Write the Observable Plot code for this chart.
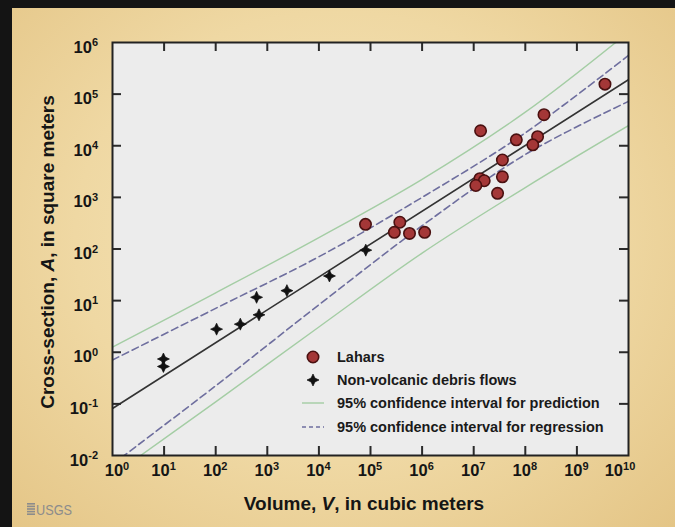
<!DOCTYPE html>
<html><head><meta charset="utf-8">
<script src="https://cdn.jsdelivr.net/npm/d3@7"></script>
<script src="https://cdn.jsdelivr.net/npm/@observablehq/plot@0.6"></script>
<style>
html,body{margin:0;padding:0;background:#e6c98c;}
#wrap{position:relative;width:675px;height:527px;overflow:hidden;
  background:radial-gradient(ellipse at 50% 45%, #f6e7bd 0%, #efd8a3 55%, #e4c586 100%);
  font-family:"Liberation Sans",Arial,Helvetica,sans-serif;}
#wrap svg{position:absolute;left:0;top:0;}
</style></head>
<body><div id="wrap"></div>
<script>
// ---- data ----
const laharV = [3.5e9, 2.3e8, 1.36e7, 6.7e7, 1.73e8, 1.4e8, 3.6e7, 3.6e7, 1.32e7, 1.6e7, 1.1e7, 2.9e7, 8.0e4, 3.7e5, 2.9e5, 5.7e5, 1.12e6];
const laharA = [1.56e5, 4.0e4, 1.95e4, 1.3e4, 1.5e4, 1.04e4, 5.3e3, 2.5e3, 2.3e3, 2.1e3, 1.7e3, 1.2e3, 300, 330, 210, 200, 210];
const debrisV = [9.7, 9.7, 104, 300, 620, 690, 2400, 1.6e4, 8.1e4];
const debrisA = [0.74, 0.53, 2.8, 3.5, 11.6, 5.3, 15.6, 30, 95];
// curves: log10(V) stations and log10(A)
const curveLogV = [0, 2, 4, 6, 8, 10];
const regLogV = [0, 10];
const regLogA = [-1.09, 5.28];
const regUpperLogA = [-0.15, 0.85, 1.85, 3.0, 4.25, 5.75];
const regLowerLogA = [-2.17, -0.65, 0.92, 2.45, 3.83, 4.86];
const predUpperLogA = [0.1, 1.15, 2.22, 3.35, 4.65, 6.2];
const predLowerLogA = [-2.39, -0.96, 0.49, 1.92, 3.19, 4.39];
const xTickExp = [1, 2, 3, 4, 5, 6, 7, 8, 9];
const yTickExp = [-1, 0, 1, 2, 3, 4, 5];
const xLabelExp = [0, 1, 2, 3, 4, 5, 6, 7, 8, 9, 10];
const yLabelExp = [-2, -1, 0, 1, 2, 3, 4, 5, 6];
const legendLabels = ["Lahars", "Non-volcanic debris flows", "95% confidence interval for prediction", "95% confidence interval for regression"];

// ---- tables ----
const lahars = laharV.map((v, i) => ({v, a: laharA[i]}));
const debris = debrisV.map((v, i) => ({v, a: debrisA[i]}));
const mk = (lx, ly) => lx.map((x, i) => ({v: 10 ** x, a: 10 ** ly[i]}));
const reg = mk(regLogV, regLogA);
const regU = mk(curveLogV, regUpperLogA);
const regL = mk(curveLogV, regLowerLogA);
const predU = mk(curveLogV, predUpperLogA);
const predL = mk(curveLogV, predLowerLogA);
const xTicks = xTickExp.map(e => 10 ** e);
const yTicks = yTickExp.map(e => 10 ** e);

const star4 = {draw(ctx, size) {
  const r = Math.sqrt(size / Math.PI), w = r * 0.32;
  ctx.moveTo(0, -r); ctx.lineTo(w, -w); ctx.lineTo(r, 0); ctx.lineTo(w, w);
  ctx.lineTo(0, r); ctx.lineTo(-w, w); ctx.lineTo(-r, 0); ctx.lineTo(-w, -w); ctx.closePath();
}};

const GREEN = "#a4cda4", DASH = "#6e6e9e", TICK = "#2a2a2a";
const H = 413, W = 516;
const FONT = "'Liberation Sans', Arial, sans-serif";

const plot = Plot.plot({
  width: 675, height: 527,
  marginLeft: 112, marginRight: 47, marginTop: 42, marginBottom: 72,
  style: {background: "transparent", overflow: "visible"},
  x: {type: "log", domain: [1, 1e10], axis: null},
  y: {type: "log", domain: [1e-2, 1e6], axis: null},
  marks: [
    Plot.frame({fill: "#ececec", stroke: "none"}),
    Plot.line(predU, {x: "v", y: "a", stroke: GREEN, strokeWidth: 1.4, curve: "catmull-rom", clip: true}),
    Plot.line(predL, {x: "v", y: "a", stroke: GREEN, strokeWidth: 1.4, curve: "catmull-rom", clip: true}),
    Plot.line(regU, {x: "v", y: "a", stroke: DASH, strokeWidth: 1.6, strokeDasharray: "7,4", curve: "catmull-rom", clip: true}),
    Plot.line(regL, {x: "v", y: "a", stroke: DASH, strokeWidth: 1.6, strokeDasharray: "7,4", curve: "catmull-rom", clip: true}),
    Plot.line(reg, {x: "v", y: "a", stroke: "#333", strokeWidth: 1.6, clip: true}),
    Plot.dot(debris, {x: "v", y: "a", symbol: star4, r: 6, fill: "#111", stroke: "#111", strokeWidth: 0.7}),
    Plot.dot(lahars, {x: "v", y: "a", r: 5.7, fill: "#a43737", stroke: "#4a1010", strokeWidth: 1.6}),
    Plot.ruleX(xTicks, {x: d => d, insetTop: H - 9, stroke: TICK, strokeWidth: 2}),
    Plot.ruleX(xTicks, {x: d => d, insetBottom: H - 9, stroke: TICK, strokeWidth: 2}),
    Plot.ruleY(yTicks, {y: d => d, insetRight: W - 9, stroke: TICK, strokeWidth: 2}),
    Plot.ruleY(yTicks, {y: d => d, insetLeft: W - 9, stroke: TICK, strokeWidth: 2}),
    Plot.frame({stroke: "#222", strokeWidth: 2})
  ]
});

document.getElementById("wrap").appendChild(plot);

const sxo = plot.scale("x"), syo = plot.scale("y");
const fx = sxo.apply ? (v => sxo.apply(v)) : d3.scaleLog(sxo.domain, sxo.range);
const fy = syo.apply ? (v => syo.apply(v)) : d3.scaleLog(syo.domain, syo.range);

const svg = d3.select(plot);
const g = svg.append("g").attr("font-family", FONT).attr("font-weight", "bold").attr("fill", "#151515");

// x tick labels
xLabelExp.forEach(e => {
  let dx = 0;
  if (e === 0) dx = 5;
  if (e === 10) dx = -8;
  const t = g.append("text").attr("x", fx(10 ** e) + dx).attr("y", 476).attr("text-anchor", "middle").attr("font-size", 16.5);
  t.append("tspan").text("10");
  t.append("tspan").attr("font-size", 11).attr("dy", -6.5).text(String(e));
});
// y tick labels
yLabelExp.forEach(e => {
  const t = g.append("text").attr("x", 98).attr("y", fy(10 ** e) + 10.5).attr("text-anchor", "end").attr("font-size", 16.5);
  t.append("tspan").text("10");
  t.append("tspan").attr("font-size", 11).attr("dy", -6.5).text(String(e));
});
// axis titles
const xt = g.append("text").attr("x", 364).attr("y", 510).attr("text-anchor", "middle").attr("font-size", 19);
xt.append("tspan").text("Volume, ");
xt.append("tspan").attr("font-style", "italic").text("V");
xt.append("tspan").text(", in cubic meters");
const yt = g.append("text").attr("transform", "translate(54,252) rotate(-90)").attr("text-anchor", "middle").attr("font-size", 19);
yt.append("tspan").text("Cross-section, ");
yt.append("tspan").attr("font-style", "italic").text("A");
yt.append("tspan").text(", in square meters");

// legend
const lg = svg.append("g");
const ly = [357, 380, 403, 427];
lg.append("circle").attr("cx", 313).attr("cy", ly[0]).attr("r", 5.7).attr("fill", "#a43737").attr("stroke", "#4a1010").attr("stroke-width", 1.6);
lg.append("path").attr("transform", `translate(313,${ly[1]})`).attr("d", d3.symbol(star4, 6 * 6 * Math.PI)()).attr("fill", "#111").attr("stroke", "#111").attr("stroke-width", 0.7);
lg.append("line").attr("x1", 302).attr("x2", 324).attr("y1", ly[2]).attr("y2", ly[2]).attr("stroke", GREEN).attr("stroke-width", 1.4);
lg.append("line").attr("x1", 302).attr("x2", 324).attr("y1", ly[3]).attr("y2", ly[3]).attr("stroke", DASH).attr("stroke-width", 1.6).attr("stroke-dasharray", "4,3");
legendLabels.forEach((s, i) => {
  lg.append("text").attr("x", 337).attr("y", ly[i] + 5.3).attr("text-anchor", "start").attr("font-family", FONT).attr("font-weight", "bold").attr("font-size", 14.5).attr("fill", "#1a1a1a").text(s);
});

// USGS mark
const logo = svg.append("g").attr("fill", "#8c8c8c");
[0, 1, 2, 3, 4].forEach(i => logo.append("rect").attr("x", 27).attr("y", 503 + i * 2.6).attr("width", 8).attr("height", 1.6));
logo.append("text").attr("x", 36).attr("y", 515).attr("text-anchor", "start").attr("font-family", "'Liberation Sans Narrow', 'Liberation Sans', Arial, sans-serif").attr("font-size", 15).attr("textLength", 36).attr("lengthAdjust", "spacingAndGlyphs").text("USGS");

// dark border bands of the slide
svg.append("rect").attr("x", 0).attr("y", 0).attr("width", 12).attr("height", 527).attr("fill", "#141414");
svg.append("rect").attr("x", 0).attr("y", 0).attr("width", 675).attr("height", 8).attr("fill", "#141414");
</script>
</body></html>
